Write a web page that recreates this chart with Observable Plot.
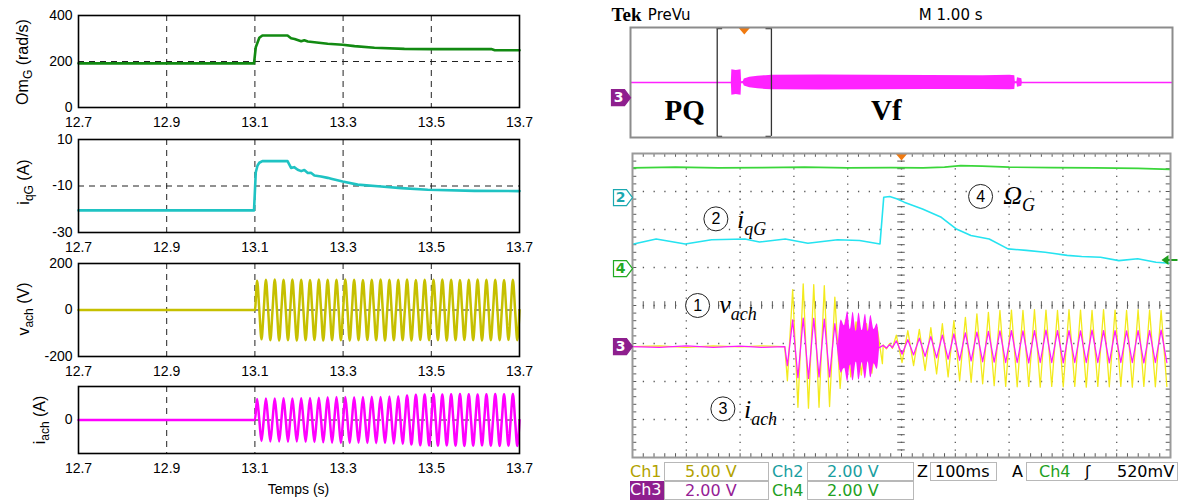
<!DOCTYPE html>
<html><head><meta charset="utf-8">
<script src="https://cdn.jsdelivr.net/npm/d3@7"></script>
<script src="https://cdn.jsdelivr.net/npm/@observablehq/plot@0.6"></script>
<style>
body{margin:0;background:#fff;}
#root{position:relative;width:1178px;height:500px;overflow:hidden;background:#fff;}
.st{position:absolute;font-family:"DejaVu Sans",sans-serif;font-size:16px;line-height:18px;height:18px;white-space:pre;box-sizing:border-box;}
.bx{border:1px solid #b8b8b8;background:#fff;}
</style></head><body><div id="root"></div>
<script>
// ---------------- DATA ----------------
const xTicks = [12.7, 12.9, 13.1, 13.3, 13.5, 13.7];
const xGrid = [12.9, 13.1, 13.3, 13.5];
// Om_G (rad/s)
const omT = [12.7, 13.098, 13.102, 13.11, 13.117, 13.174, 13.182, 13.19, 13.205, 13.212, 13.22, 13.235, 13.265, 13.299, 13.326, 13.371, 13.439, 13.5, 13.636, 13.644, 13.7];
const omV = [192, 192, 262, 303, 313, 313, 301, 298, 288, 292, 287, 284, 277, 273, 267, 260, 255, 254, 254, 249, 249];
// i_qG (A)
const iqT = [12.7, 13.098, 13.102, 13.106, 13.11, 13.117, 13.174, 13.182, 13.189, 13.197, 13.205, 13.212, 13.22, 13.227, 13.235, 13.25, 13.265, 13.273, 13.299, 13.333, 13.386, 13.432, 13.492, 13.598, 13.7];
const iqV = [-20.5, -20.5, -4.1, -1.2, 0.0, 0.7, 0.7, -2.2, -1.9, -3.0, -3.6, -3.1, -4.4, -4.3, -5.5, -5.9, -6.5, -6.9, -8.1, -9.4, -10.2, -10.9, -11.6, -12.1, -12.2];
// v_ach, i_ach : 50 Hz after 13.1 s, amplitude of each cycle
const acStart = 13.1, acPeriod = 0.02;
const vachAmp = [126,130,131,130,131,130,129,131,130,130,131,130,129,130,131,130,130,131,129,130,130,131,130,129,130,131,130,130,129,130];
const iachAmp = [9.4,9.6,9.6,9.7,9.6,9.7,9.8,10.0,10.2,10.3,10.3,10.2,10.3,10.4,10.3,10.5,10.6,11.0,11.3,11.4,11.5,11.4,11.5,11.6,11.5,11.4,11.5,11.6,11.5,11.6];

// Oscilloscope PreVu (M 1.00 s/div)
const pvWindow = [1.6, 2.6];
const pvBurstT = [1.86, 1.87, 1.95, 2.04, 2.05, 2.08, 2.1, 2.2, 2.35, 2.5, 2.6, 3.5, 4.5, 5.5, 6.5, 7.0, 7.09, 7.1, 7.13, 7.14, 7.22, 7.23];
const pvBurstE = [0, 0.92, 0.88, 0.92, 0.05, 0.08, 0.25, 0.38, 0.46, 0.5, 0.52, 0.54, 0.52, 0.51, 0.5, 0.52, 0.5, 0.05, 0.05, 0.35, 0.28, 0];
const pvLabels = [{text: "PQ", t: 1.0, y: -2.05}, {text: "Vf", t: 4.72, y: -2.05}];

// Oscilloscope main screen (divisions)
const scopeOmT = [0, 0.8, 1.6, 2.4, 3.2, 4.0, 4.8, 5.4, 5.8, 6.1, 6.5, 7.0, 7.8, 8.6, 9.4, 10];
const scopeOmV = [3.62, 3.64, 3.62, 3.63, 3.64, 3.62, 3.63, 3.62, 3.64, 3.68, 3.67, 3.64, 3.63, 3.62, 3.61, 3.58];
const scopeIqT = [0.02,0.44,0.98,1.47,2.09,2.36,2.84,3.26,3.81,4.22,4.6,4.67,4.78,4.91,5.05,5.39,5.74,6.01,6.29,6.63,6.98,7.32,7.67,8.08,8.35,8.7,9.04,9.39,9.73,10];
const scopeIqV = [1.62,1.75,1.62,1.73,1.75,1.67,1.75,1.64,1.73,1.71,1.62,2.85,2.87,2.81,2.72,2.54,2.32,2.02,1.84,1.75,1.49,1.45,1.40,1.32,1.29,1.27,1.18,1.23,1.14,1.11];
const scopeBase = -1.08;
const scopeFlatT = [0, 0.5, 1.0, 1.5, 2.0, 2.4, 2.83];
const scopeFlatV = [0.0, 0.02, -0.02, 0.02, -0.01, 0.02, 0.0];
const scopeR1Start = 2.83, scopeR1Half = 0.098;
const scopeV1 = [-0.9, 1.5, -1.6, 1.65, -1.62, 1.63, -1.6, 1.6, -1.58, 1.3, -1.1];
const scopeM1 = [-0.5, 0.7, -0.82, 0.75, -0.84, 0.74, -0.8, 0.72, -0.8, 0.6, -0.6];
const scopeR2Start = 3.91;
const scopeV2 = [0.7, -0.8, 0.65, -0.75, 0.6, -0.7, 0.5, -0.45];
const scopeBurstT = [3.83, 3.88, 3.94, 4.0, 4.05, 4.1, 4.16, 4.21, 4.27, 4.33, 4.38, 4.43, 4.49, 4.55, 4.59];
const scopeBurstE = [0.15, 0.7, 0.55, 0.92, 0.45, 0.9, 0.4, 0.88, 0.42, 0.85, 0.4, 0.82, 0.45, 0.6, 0.1];
const scopeRipT = [4.66, 4.72, 4.78, 4.83];
const scopeRipV = [0.04, -0.06, 0.08, -0.05];
const scopeRipM = [0.03, -0.04, 0.05, -0.03];
const scopeR4Start = 4.85, scopeR4Half = 0.107;
const scopeV4 = [0.3,-0.42,0.42,-0.5,0.45,-0.63,0.5,-0.72,0.6,-0.8,0.68,-0.9,0.77,-0.94,0.86,-0.98,0.9,-1.03,0.95,-1.05,
  0.96,-1.06,0.95,-1.05,0.97,-1.07,0.96,-1.05,0.95,-1.06,0.97,-1.05,0.96,-1.07,0.95,-1.05,0.97,-1.06,0.96,-1.05,
  0.95,-1.07,0.97,-1.05,0.96,-1.06,0.95,-1.05];
const scopeM4 = [0.15,-0.2,0.18,-0.22,0.22,-0.26,0.26,-0.3,0.3,-0.33,0.33,-0.36,0.36,-0.38,0.38,-0.4,0.4,-0.41,0.41,-0.42,
  0.42,-0.42,0.41,-0.43,0.42,-0.42,0.43,-0.42,0.42,-0.43,0.42,-0.42,0.41,-0.42,0.43,-0.42,0.42,-0.43,0.42,-0.42,
  0.41,-0.42,0.42,-0.43,0.42,-0.42,0.43,-0.42];
const chanMarks = [{ch: "2", y: 2.84, kind: "cyan"}, {ch: "4", y: 0.97, kind: "green"}, {ch: "3", y: -1.08, kind: "purple"}];
const triggerLevel = 1.2;
const scopeNotes = [
  {n: "2", cx: 1.55, cy: 2.28, main: "i", sub: "qG", lx: 1.95, ly: 2.03},
  {n: "4", cx: 6.47, cy: 2.87, main: "\u03A9", sub: "G", lx: 6.9, ly: 2.65},
  {n: "1", cx: 1.21, cy: 0.0, main: "v", sub: "ach", lx: 1.62, ly: -0.2},
  {n: "3", cx: 1.68, cy: -2.72, main: "i", sub: "ach", lx: 2.08, ly: -2.97}
];
const statusRow1 = ["Ch1", "5.00 V", "Ch2", "2.00 V", "Z", "100ms", "A", "Ch4", "\u0283", "520mV"];
const statusRow2 = ["Ch3", "2.00 V", "Ch4", "2.00 V"];

// ---------------- HELPERS ----------------
const root = document.getElementById("root");
function place(el, left, top) { el.style.position = "absolute"; el.style.left = left + "px"; el.style.top = top + "px"; root.appendChild(el); }
const zip = (T, V) => T.map((t, i) => ({t, v: V[i]}));
function acWave(amps) {
  const pts = [{t: 12.7, v: 0}];
  amps.forEach((a, i) => {
    const s = acStart + i * acPeriod;
    pts.push({t: s, v: 0}, {t: s + acPeriod / 4, v: a}, {t: s + acPeriod / 2, v: 0}, {t: s + 3 * acPeriod / 4, v: -a});
  });
  pts.push({t: acStart + amps.length * acPeriod, v: 0});
  return pts;
}
const zig = (t0, half, ext, base) => ext.map((e, i) => ({t: t0 + half * (i + 0.5), v: base + e}));
const baseStyle = {background: "transparent", fontFamily: "'Liberation Sans', Arial, sans-serif", fontSize: "14px", color: "#000", overflow: "visible"};
function scaleFn(svg, name) { const s = svg.scale(name); return s.apply ? s.apply : Plot.scale({[name]: s}).apply; }

// ---------------- LEFT PANELS ----------------
function leftPanel(o) {
  const svg = Plot.plot({
    width: 530, height: o.height, marginLeft: 78, marginRight: 11, marginTop: o.mt, marginBottom: o.mb,
    style: baseStyle,
    x: {domain: [12.7, 13.7], ticks: xTicks, tickFormat: d => d.toFixed(1), tickSize: 0, tickPadding: 10, label: null},
    y: {domain: o.domain, ticks: o.ticks, tickFormat: d => String(d), tickSize: 0, tickPadding: 6, label: null},
    marks: [
      Plot.ruleX(xGrid, {stroke: "#222", strokeWidth: 1, strokeDasharray: "6,5"}),
      Plot.ruleY(o.gridY, {stroke: "#222", strokeWidth: 1, strokeDasharray: "6,5"}),
      Plot.line(o.data, {x: "t", y: "v", stroke: o.color, strokeWidth: o.sw || 2.6, curve: o.curve || "linear"}),
      Plot.frame({stroke: "#000", strokeWidth: 1.6})
    ]
  });
  const t = d3.select(svg).append("text")
    .attr("transform", `translate(${o.lx},${o.ly}) rotate(-90)`)
    .attr("text-anchor", "middle").attr("font-size", 16).attr("fill", "#000")
    .attr("font-family", "'Liberation Sans', Arial, sans-serif");
  t.append("tspan").text(o.label[0]);
  t.append("tspan").attr("dy", 4).attr("font-size", 12).text(o.label[1]);
  t.append("tspan").attr("dy", -4).text(o.label[2]);
  if (o.xlabel) {
    const sx = scaleFn(svg, "x");
    d3.select(svg).append("text").attr("x", sx(13.2)).attr("y", o.height - 6)
      .attr("text-anchor", "middle").attr("font-size", 14).attr("fill", "#000")
      .attr("font-family", "'Liberation Sans', Arial, sans-serif").text(o.xlabel);
  }
  place(svg, 0, o.top);
}
leftPanel({top: 0, height: 130, mt: 15, mb: 23, domain: [0, 400], ticks: [0, 200, 400], gridY: [200],
  data: zip(omT, omV), color: "#128a12", lx: 28, ly: 62, label: ["Om", "G", " (rad/s)"]});
leftPanel({top: 130, height: 125, mt: 9, mb: 23, domain: [-30, 10], ticks: [-30, -10, 10], gridY: [-10],
  data: zip(iqT, iqV), color: "#1fc3c3", lx: 29, ly: 52, label: ["i", "qG", " (A)"]});
leftPanel({top: 255, height: 125, mt: 8, mb: 24, domain: [-200, 200], ticks: [-200, 0, 200], gridY: [0],
  data: acWave(vachAmp), color: "#c6c000", sw: 2.5, curve: "monotone-x", lx: 29, ly: 54, label: ["v", "ach", " (V)"]});
leftPanel({top: 380, height: 120, mt: 6, mb: 47, domain: [-15, 15], ticks: [0], gridY: [0],
  data: acWave(iachAmp), color: "#ff00ff", sw: 2.5, curve: "monotone-x", lx: 45, ly: 40, label: ["i", "ach", " (A)"], xlabel: "Temps (s)"});

// ---------------- SCOPE SYMBOLS ----------------
const chanSymbol = {draw(ctx) { ctx.moveTo(0, 0); ctx.lineTo(-6, -8); ctx.lineTo(-19, -8); ctx.lineTo(-19, 8); ctx.lineTo(-6, 8); ctx.closePath(); }};
const downTri = {draw(ctx) { ctx.moveTo(-6, 0); ctx.lineTo(6, 0); ctx.lineTo(0, 7); ctx.closePath(); }};
const trigArrow = {draw(ctx) { ctx.moveTo(-9, 0); ctx.lineTo(-2, -5); ctx.lineTo(-2, 5); ctx.closePath(); ctx.moveTo(-2, -1); ctx.lineTo(7, -1); ctx.lineTo(7, 1); ctx.lineTo(-2, 1); ctx.closePath(); }};
const chanFill = {cyan: "#fff", green: "#fff", purple: "#8e1f8e"};
const chanStroke = {cyan: "#1aa8b0", green: "#22aa22", purple: "#8e1f8e"};
const chanText = {cyan: "#1aa8b0", green: "#22aa22", purple: "#fff"};

// ---------------- PREVU BOX ----------------
{
  const serifs = [];
  pvWindow.forEach((w, i) => { const d = i === 0 ? 0.1 : -0.1; serifs.push({x1: w, x2: w + d, y: 3.92}, {x1: w, x2: w + d, y: -3.92}); });
  const pvMark = [{ch: "3", y: -1.1, kind: "purple"}];
  const svg = Plot.plot({
    width: 578, height: 150, marginLeft: 30, marginRight: 6, marginTop: 27, marginBottom: 13,
    style: baseStyle,
    x: {domain: [0, 10], axis: null}, y: {domain: [-4, 4], axis: null},
    marks: [
      Plot.ruleY([0], {stroke: "#ff22ff", strokeWidth: 1.4}),
      Plot.areaY(zip(pvBurstT, pvBurstE), {x: "t", y1: d => -d.v, y2: d => d.v, fill: "#ff22ff"}),
      Plot.ruleX(pvWindow, {y1: -3.92, y2: 3.92, stroke: "#333", strokeWidth: 1.3}),
      Plot.ruleY(serifs, {y: "y", x1: "x1", x2: "x2", stroke: "#333", strokeWidth: 1.3}),
      Plot.dot([d3.mean(pvWindow)], {x: d => d, y: 4, symbol: downTri, fill: "#f07a10", stroke: null}),
      Plot.text(pvLabels, {x: "t", y: "y", text: "text", fontFamily: "'Liberation Serif', serif", fontWeight: "bold", fontSize: 29, fill: "#000"}),
      Plot.frame({stroke: "#8c8c8c", strokeWidth: 2}),
      Plot.dot(pvMark, {x: 0, y: "y", symbol: chanSymbol, fill: d => chanFill[d.kind], stroke: d => chanStroke[d.kind], strokeWidth: 1.2}),
      Plot.text(pvMark, {x: 0, y: "y", text: "ch", dx: -12, fill: d => chanText[d.kind], fontSize: 14, fontWeight: "bold", fontFamily: "'DejaVu Sans', sans-serif"}),
      Plot.text(["Tek"], {x: -0.35, y: 4.9, text: d => d, textAnchor: "start", fontFamily: "'Liberation Serif', serif", fontWeight: "bold", fontSize: 19}),
      Plot.text(["PreVu"], {x: 0.32, y: 4.9, text: d => d, textAnchor: "start", fontFamily: "'DejaVu Sans', sans-serif", fontSize: 15}),
      Plot.text(["M 1.00 s"], {x: 5.32, y: 4.9, text: d => d, textAnchor: "start", fontFamily: "'DejaVu Sans', sans-serif", fontSize: 15})
    ]
  });
  place(svg, 600, 0);
}

// ---------------- MAIN SCOPE SCREEN ----------------
{
  const minorX = d3.range(0, 10.001, 0.2), minorY = d3.range(-4, 4.001, 0.2);
  const yellow = [
    ...zip(scopeFlatT, scopeFlatV.map(v => v + scopeBase)),
    ...zig(scopeR1Start, scopeR1Half, scopeV1, scopeBase),
    ...zig(scopeR2Start, scopeR1Half, scopeV2, scopeBase),
    ...zip(scopeRipT, scopeRipV.map(v => v + scopeBase)),
    ...zig(scopeR4Start, scopeR4Half, scopeV4, scopeBase)
  ];
  const magenta = [
    ...zip(scopeFlatT, scopeFlatV.map(v => -v + scopeBase)),
    ...zig(scopeR1Start, scopeR1Half, scopeM1, scopeBase),
    ...zip(scopeRipT, scopeRipM.map(v => v + scopeBase)),
    ...zig(scopeR4Start, scopeR4Half, scopeM4, scopeBase)
  ];
  const svg = Plot.plot({
    width: 578, height: 312, marginLeft: 32, marginRight: 8, marginTop: 3, marginBottom: 5,
    style: baseStyle,
    x: {domain: [0, 10], axis: null}, y: {domain: [-4, 4], axis: null},
    marks: [
      Plot.ruleX(d3.range(1, 10), {stroke: "#5a5a5a", strokeWidth: 1.3, strokeDasharray: "1.3,6.3"}),
      Plot.ruleY(d3.range(-3, 4), {stroke: "#5a5a5a", strokeWidth: 1.3, strokeDasharray: "1.3,9.46"}),
      Plot.ruleX(minorX, {y1: -0.1, y2: 0.1, stroke: "#5a5a5a", strokeWidth: 1}),
      Plot.ruleY(minorY, {x1: 4.93, x2: 5.07, stroke: "#5a5a5a", strokeWidth: 1}),
      Plot.ruleX(minorX, {y1: 3.9, y2: 4, stroke: "#5a5a5a", strokeWidth: 1}),
      Plot.ruleX(minorX, {y1: -4, y2: -3.9, stroke: "#5a5a5a", strokeWidth: 1}),
      Plot.ruleY(minorY, {x1: 0, x2: 0.08, stroke: "#5a5a5a", strokeWidth: 1}),
      Plot.ruleY(minorY, {x1: 9.92, x2: 10, stroke: "#5a5a5a", strokeWidth: 1}),
      Plot.line(zip(scopeOmT, scopeOmV), {x: "t", y: "v", stroke: "#3ad63a", strokeWidth: 1.7, clip: true}),
      Plot.line(zip(scopeIqT, scopeIqV), {x: "t", y: "v", stroke: "#25e3f0", strokeWidth: 1.6, clip: true}),
      Plot.line(yellow, {x: "t", y: "v", stroke: "#f3ea1c", strokeWidth: 1.3, clip: true}),
      Plot.line(magenta, {x: "t", y: "v", stroke: "#ff1aff", strokeWidth: 1.3, clip: true}),
      Plot.areaY(zip(scopeBurstT, scopeBurstE), {x: "t", y1: d => scopeBase - d.v, y2: d => scopeBase + d.v, fill: "#ff1aff", curve: "monotone-x"}),
      Plot.dot(scopeNotes, {x: "cx", y: "cy", r: 12, stroke: "#222", strokeWidth: 1, fill: "white"}),
      Plot.text(scopeNotes, {x: "cx", y: "cy", text: "n", fontSize: 16, fill: "#000", fontFamily: "'Liberation Sans', Arial, sans-serif"}),
      Plot.dot([5], {x: d => d, y: 4, symbol: downTri, fill: "#f07a10", stroke: null}),
      Plot.dot([triggerLevel], {x: 10, y: d => d, symbol: trigArrow, fill: "#1e9e1e", stroke: null}),
      Plot.frame({stroke: "#9a9a9a", strokeWidth: 2}),
      Plot.dot(chanMarks, {x: 0, y: "y", symbol: chanSymbol, fill: d => chanFill[d.kind], stroke: d => chanStroke[d.kind], strokeWidth: 1.2}),
      Plot.text(chanMarks, {x: 0, y: "y", text: "ch", dx: -12, fill: d => chanText[d.kind], fontSize: 14, fontWeight: "bold", fontFamily: "'DejaVu Sans', sans-serif"})
    ]
  });
  const sx = scaleFn(svg, "x"), sy = scaleFn(svg, "y");
  scopeNotes.forEach(n => {
    const t = d3.select(svg).append("text").attr("x", sx(n.lx)).attr("y", sy(n.ly))
      .attr("text-anchor", "start")
      .attr("font-family", "'Liberation Serif', 'DejaVu Serif', serif").attr("font-style", "italic")
      .attr("font-size", 26).attr("fill", "#000");
    t.append("tspan").text(n.main);
    t.append("tspan").attr("dy", 7).attr("font-size", 18).text(n.sub);
  });
  place(svg, 600, 150);
}

// ---------------- STATUS BAR ----------------
{
  const olive = "#b2a200", teal = "#1a9ea0", purple = "#952095", green = "#22a022";
  const cells = [
    {txt: statusRow1[0], l: 630, t: 463, w: 33, c: olive},
    {txt: statusRow1[1], l: 664, t: 462, w: 105, c: olive, box: true, pad: 20},
    {txt: statusRow1[2], l: 772, t: 463, w: 34, c: teal},
    {txt: statusRow1[3], l: 807, t: 462, w: 107, c: teal, box: true, pad: 19},
    {txt: statusRow1[4], l: 917, t: 463, w: 12, c: "#000"},
    {txt: statusRow1[5], l: 930, t: 462, w: 67, c: "#000", box: true, pad: 4},
    {txt: statusRow1[6], l: 1012, t: 463, w: 12, c: "#000"},
    {txt: "", l: 1026, t: 462, w: 152, c: "#000", box: true},
    {txt: statusRow1[7], l: 1039, t: 463, w: 36, c: green},
    {txt: statusRow1[8], l: 1085, t: 463, w: 12, c: "#000"},
    {txt: statusRow1[9], l: 1117, t: 463, w: 60, c: "#000"},
    {txt: statusRow2[0], l: 630, t: 481, w: 34, c: "#fff", bg: "#8e1f8e"},
    {txt: statusRow2[1], l: 664, t: 481, w: 105, c: purple, box: true, pad: 20},
    {txt: statusRow2[2], l: 772, t: 482, w: 34, c: green},
    {txt: statusRow2[3], l: 807, t: 481, w: 107, c: green, box: true, pad: 19}
  ];
  cells.forEach(c => {
    const d = document.createElement("div");
    d.className = "st" + (c.box ? " bx" : "");
    d.textContent = c.txt;
    d.style.width = c.w + "px";
    d.style.height = "19px";
    d.style.color = c.c;
    d.style.paddingLeft = (c.pad || 0) + "px";
    if (c.bg) d.style.background = c.bg;
    place(d, c.l, c.t);
  });
}
</script></body></html>
